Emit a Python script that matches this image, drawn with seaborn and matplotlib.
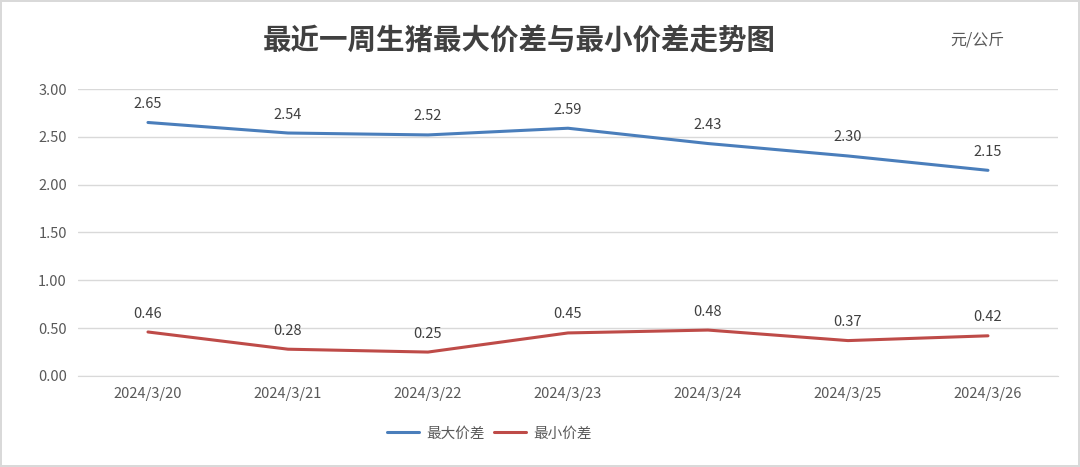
import pandas as pd
import seaborn as sns
import matplotlib.pyplot as plt
from matplotlib.ticker import FixedLocator

dates = ['2024/3/20', '2024/3/21', '2024/3/22', '2024/3/23', '2024/3/24', '2024/3/25', '2024/3/26']
max_diff = [2.65, 2.54, 2.52, 2.59, 2.43, 2.30, 2.15]
min_diff = [0.46, 0.28, 0.25, 0.45, 0.48, 0.37, 0.42]
series_names = ['最大价差', '最小价差']
colors = ['#4A7EBB', '#BE4B48']

df = pd.DataFrame({
    'date': dates * 2,
    'value': max_diff + min_diff,
    'series': [series_names[0]] * len(dates) + [series_names[1]] * len(dates),
})

sns.set_style('white')
plt.rcParams['font.family'] = ['Noto Sans CJK SC', 'DejaVu Sans']

fig = plt.figure(figsize=(10.8, 4.67), dpi=100)
fig.patch.set_edgecolor('#D9D9D9')
fig.patch.set_linewidth(1.5)
ax = fig.add_axes([0.0722, 0.1949, 0.9074, 0.6145])

sns.lineplot(data=df, x='date', y='value', hue='series', palette=colors,
             linewidth=2.2, ax=ax, sort=False)

for vals, c in zip([max_diff, min_diff], colors):
    for i, v in enumerate(vals):
        ax.text(i, v + 0.12, f'{v:.2f}', ha='center', va='bottom',
                fontsize=10.5, color='#404040')

ax.set_xlim(-0.5, len(dates) - 0.5)
ax.set_ylim(0, 3)
ax.set_yticks([0, 0.5, 1.0, 1.5, 2.0, 2.5, 3.0])
ax.set_yticklabels([f'{t:.2f}' for t in ax.get_yticks()])
ax.yaxis.grid(True, color='#D9D9D9', linewidth=1)
ax.xaxis.grid(False)
for s in ['top', 'right', 'left']:
    ax.spines[s].set_visible(False)
ax.spines['bottom'].set_color('#D9D9D9')
ax.tick_params(axis='both', labelsize=10.5, colors='#595959', length=0, pad=8)
ax.xaxis.set_minor_locator(FixedLocator([i - 0.5 for i in range(len(dates) + 1)]))
ax.tick_params(axis='x', which='minor', length=5, color='#D9D9D9', direction='out')
ax.set_xlabel('')
ax.set_ylabel('')

ax.legend(loc='upper center', bbox_to_anchor=(0.42, -0.13), ncol=2, frameon=False,
          fontsize=10.5, labelcolor='#595959', handlelength=2.2, columnspacing=0.6,
          handletextpad=0.5)

fig.text(0.481, 0.91, '最近一周生猪最大价差与最小价差走势图', ha='center', va='center',
         fontsize=20.5, fontweight='bold', color='#404040')
fig.text(0.905, 0.915, '元/公斤', ha='center', va='center', fontsize=11.5, color='#595959')

fig.savefig('out.png', dpi=100)
plt.close(fig)
